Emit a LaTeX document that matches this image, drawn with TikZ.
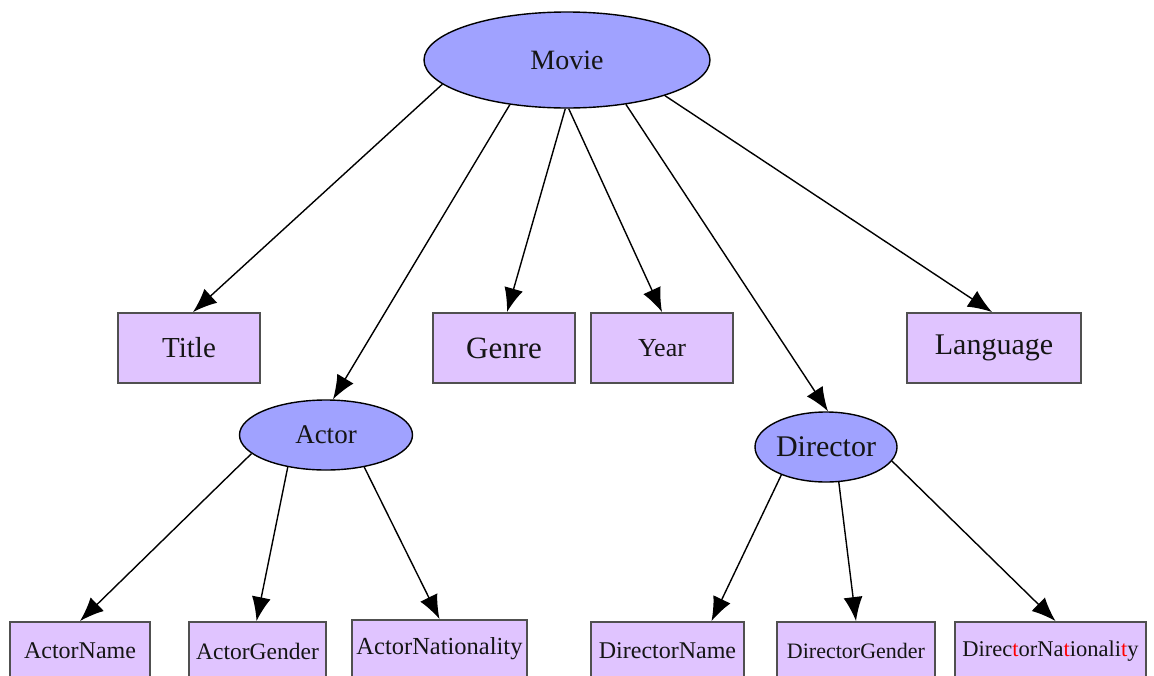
\documentclass[tikz,border=0pt]{standalone}
\usepackage{fontspec}
\setmainfont{Liberation Serif}
\usetikzlibrary{shapes.geometric,arrows.meta}
\definecolor{ellfill}{HTML}{A0A2FF}
\definecolor{boxfill}{HTML}{E0C4FF}
\definecolor{boxline}{HTML}{505050}
\definecolor{txt}{HTML}{151515}
\newcommand{\fs}[1]{\fontsize{#1}{#1}\selectfont}
\newcommand{\uptext}[1]{\raisebox{6pt}[\height][\depth]{#1}}
\tikzset{
  ell/.style={ellipse, draw=black, line width=1.4pt, fill=ellfill, inner sep=0pt, text=txt},
  leaf/.style={rectangle, draw=boxline, line width=1.9pt, fill=boxfill, inner sep=0pt, minimum height=70pt, text=txt},
  edge/.style={line width=1.4pt, -{Latex[length=24pt,width=19pt]}}
}
\begin{document}
\begin{tikzpicture}[x=1pt,y=-1pt]
\useasboundingbox (0,0) rectangle (1154,675);
\clip (0,0) rectangle (1154,675);
\fill[white] (0,0) rectangle (1154,675);
% ellipses
\node[ell, minimum width=286pt, minimum height=96pt, font=\fs{28}] (movie) at (567,60) {Movie};
\node[ell, minimum width=173pt, minimum height=70pt, font=\fs{27}] (actor) at (326,435) {Actor};
\node[ell, minimum width=142pt, minimum height=70pt, font=\fs{30}] (director) at (826,447) {Director};
% middle row boxes
\node[leaf, minimum width=142pt, font=\fs{29}] (title) at (189,348) {Title};
\node[leaf, minimum width=142pt, font=\fs{31}] (genre) at (504,348) {Genre};
\node[leaf, minimum width=142pt, font=\fs{26}] (year) at (662,348) {Year};
\node[leaf, minimum width=174pt, font=\fs{30}] (language) at (994,348) {Language};
% bottom row boxes
\node[leaf, minimum width=140pt, font=\fs{24}] (aname) at (80,657) {\uptext{ActorName}};
\node[leaf, minimum width=137pt, font=\fs{23.5}] (agender) at (257.5,657) {\uptext{ActorGender}};
\node[leaf, minimum width=175pt, font=\fs{24.5}] (anat) at (439.5,655) {\uptext{ActorNationality}};
\node[leaf, minimum width=153pt, font=\fs{24}] (dname) at (667.5,657) {\uptext{DirectorName}};
\node[leaf, minimum width=158pt, font=\fs{22}] (dgender) at (856,657) {\uptext{DirectorGender}};
\node[leaf, minimum width=191pt, font=\fs{22.5}] (dnat) at (1050.5,657) {\uptext{Direc\textcolor{red}{t}orNa\textcolor{red}{t}ionali\textcolor{red}{t}y}};
% edges
\draw[edge] (movie.191) -- ([xshift=4pt]title.north);
\draw[edge] (movie.218) -- ([xshift=7pt]actor.north);
\draw[edge] (movie.268) -- ([xshift=3pt]genre.north);
\draw[edge] (movie.272) -- (year.north);
\draw[edge] (movie.323) -- ([xshift=2pt]director.north);
\draw[edge] (movie.340) -- ([xshift=-2pt]language.north);
\draw[edge] (actor.194) -- (aname.north);
\draw[edge] (actor.220) -- ([xshift=-1pt]agender.north);
\draw[edge] (actor.320) -- (anat.north);
\draw[edge] (director.212) -- ([xshift=44pt]dname.north);
\draw[edge] (director.290) -- (dgender.north);
\draw[edge] (director.348) -- ([xshift=5pt]dnat.north);
\end{tikzpicture}
\end{document}
